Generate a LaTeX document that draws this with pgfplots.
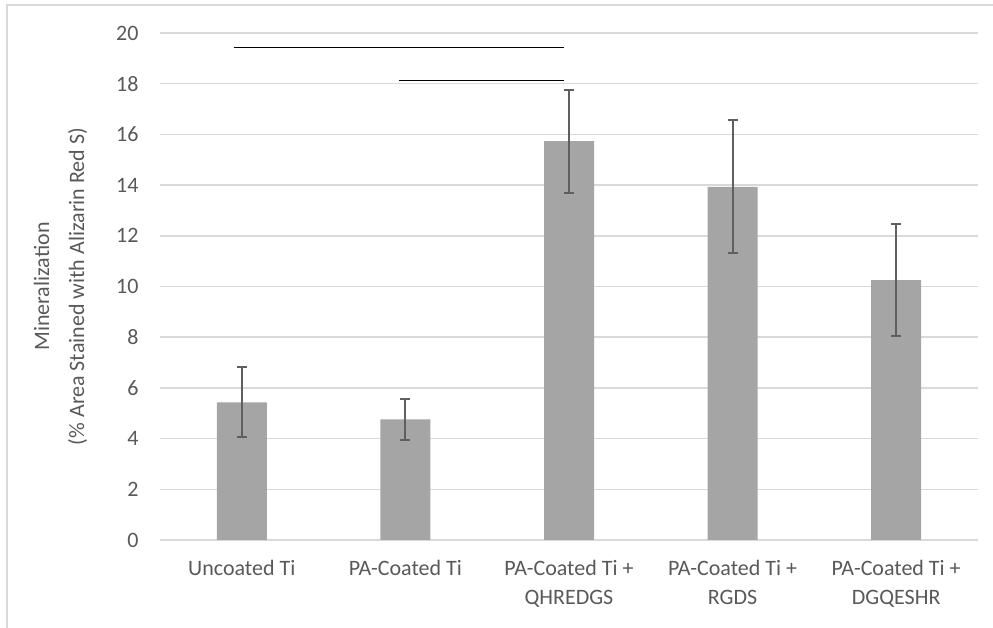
\documentclass[border=0pt]{standalone}
\usepackage{pgfplots}
\pgfplotsset{compat=1.18}
\usepackage{fontspec}
\setmainfont{Carlito}
\definecolor{txt}{HTML}{595959}
\definecolor{gridc}{HTML}{D9D9D9}
\definecolor{barc}{HTML}{A5A5A5}
\definecolor{errc}{HTML}{5F5F5F}
\begin{document}
\begin{tikzpicture}[x=1pt,y=1pt]
\useasboundingbox (0,0) rectangle (993,628);
\draw[gridc, line width=1.5pt] (7,0) -- (7,623) -- (993,623);
\begin{axis}[
  at={(160pt,88pt)}, anchor=south west,
  scale only axis, width=818pt, height=507pt,
  xmin=-0.5, xmax=4.5, ymin=0, ymax=20,
  ytick={0,2,...,20}, xtick={0,1,2,3,4},
  xticklabels={Uncoated Ti, PA-Coated Ti, {PA-Coated Ti +\\QHREDGS}, {PA-Coated Ti +\\RGDS}, {PA-Coated Ti +\\DGQESHR}},
  ymajorgrids, grid style={gridc, line width=1.5pt},
  axis line style={draw=none}, major tick length=0pt,
  /pgf/number format/assume math mode=true,
  ticklabel style={font=\fontsize{22}{29}\selectfont, text=txt},
  xticklabel style={align=center, anchor=north, yshift=-17pt},
  yticklabel style={anchor=east, xshift=-18pt},
  ylabel={Mineralization\\(\% Area Stained with Alizarin Red S)},
  ylabel style={align=center, font=\fontsize{22}{35}\selectfont, text=txt, yshift=22pt},
  clip=false,
]
\addplot[ybar, bar width=50pt, fill=barc, draw=none,
  error bars/.cd, y dir=both, y explicit,
  error bar style={errc, line width=2pt},
  error mark options={rotate=90, mark size=5pt, line width=2pt, errc}]
  table[x=x, y=y, y error=e] {
x y e
0 5.43 1.38
1 4.76 0.80
2 15.73 2.04
3 13.93 2.62
4 10.25 2.22
};
\addplot[black, line width=1.5pt] coordinates {(-0.05,19.43) (1.97,19.43)};
\addplot[black, line width=1.5pt] coordinates {(0.96,18.13) (1.97,18.13)};
\end{axis}
\end{tikzpicture}
\end{document}
